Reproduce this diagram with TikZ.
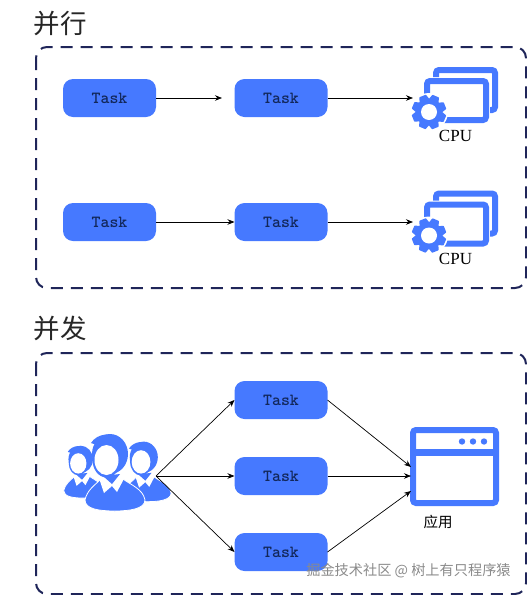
\documentclass[tikz,border=0pt]{standalone}
\usepackage{fontspec}
\setmainfont{Liberation Serif}
\newfontfamily\cjk{Noto Sans CJK SC}
\usetikzlibrary{positioning, arrows.meta}
\definecolor{clrtask}{HTML}{4679FF}
\definecolor{clrframe}{HTML}{1F2559}
\definecolor{clrtext}{HTML}{12275A}
\definecolor{clrmark}{HTML}{8A8A8A}

\begin{document}
\begin{tikzpicture}[
    x=1pt, y=-1pt,
    >={Stealth[length=7pt, width=5.5pt]},
    taskbox/.style={fill=clrtask, rounded corners=10pt, minimum width=93pt,
                    minimum height=38pt, inner sep=0, outer sep=0, text=clrtext,
                    font=\fontsize{17}{17}\ttfamily\bfseries},
    arrow/.style={->, black, line width=0.7pt},
    groupframe/.style={draw=clrframe, rounded corners=11pt, line width=2pt,
                       dash pattern=on 12pt off 8pt},
    heading/.style={font=\fontsize{26.5}{27}\cjk, text=black!85, inner sep=0},
    iconline/.style={draw=clrtask, line width=6pt, rounded corners=3pt},
    cpulabel/.style={font=\fontsize{17}{17}\selectfont, inner sep=0},
    cpuicon/.pic={
        \draw[iconline] (436,77) -- (436,70) -- (495,70) -- (495,110) -- (490,110);
        \draw[iconline] (427,97) -- (427,81) -- (486,81) -- (486,120) -- (444,120);
        \fill[white] (429,112) circle (19);
        \foreach \a in {0,45,...,315} {
            \fill[clrtask, draw=clrtask, line width=1.5pt, line join=round, shift={(429,112)}, rotate=\a+22]
                (-5,-10) -- (-3,-16.5) -- (3,-16.5) -- (5,-10) -- cycle;
        }
        \fill[clrtask] (429,112) circle (13.5);
        \fill[white] (429,112) circle (8);
    },
    personicon/.pic={
        \fill[clrtask, draw=white, line width=0.8pt] (-24,45) .. controls (-22,35) and (-14,30) .. (-8,24)
            -- (14,24) .. controls (22,30) and (34,34) .. (36,45)
            .. controls (36,54) and (20,56) .. (6,56) .. controls (-10,56) and (-24,54) .. (-24,45) -- cycle;
        \fill[white] (-11,20) -- (-5,38) -- (3,31) -- (8,37) -- (17,20) -- (4,18) -- cycle;
        \fill[clrtask] (-6,21) -- (3,29) -- (11,19) -- cycle;
        \fill[clrtask] (1,-1) ellipse (18 and 20);
        \fill[clrtask] (-18,-12) .. controls (-12,-22) and (5,-24) .. (12,-14) -- (-6,-8) -- cycle;
        \fill[clrtask] (-2.5,5) ellipse (14 and 17.5);
        \fill[white] (-2.5,5) ellipse (12 and 15);
    },
]
\useasboundingbox (0,0) rectangle (527,595);

% first group
\node[heading] (title_1) at (60.5,23) {并行};
\draw[groupframe] (36,47) rectangle (526,288);
\node[taskbox] (task_1) at (109.5,98) {Task};
\node[taskbox, right=78.5pt of task_1] (task_2) {Task};
\node[taskbox, below=86pt of task_1] (task_3) {Task};
\node[taskbox, right=78.5pt of task_3] (task_4) {Task};
\coordinate (gap_1) at (222,98);
\coordinate (cpu_in_1) at (413,98);
\coordinate (cpu_in_2) at (413,222);
\pic (cpu_1) at (0,0) {cpuicon};
\pic (cpu_2) at (0,123.5) {cpuicon};
\node[cpulabel] (cpu_text_1) at (455.5,136) {CPU};
\node[cpulabel] (cpu_text_2) at (455.5,259) {CPU};
\draw[arrow] (task_1.east) -- (gap_1);
\draw[arrow] (task_2.east) -- (cpu_in_1);
\draw[arrow] (task_3.east) -- (task_4.west);
\draw[arrow] (task_4.east) -- (cpu_in_2);

% second group
\node[heading] (title_2) at (60.5,328) {并发};
\draw[groupframe] (36,353) rectangle (526,594);
\node[taskbox] (task_5) at (281,400) {Task};
\node[taskbox, below=38pt of task_5] (task_6) {Task};
\node[taskbox, below=38pt of task_6] (task_7) {Task};
\pic[scale=0.68] (user_1) at (80,460) {personicon};
\pic[scale=0.78] (user_2) at (143,458) {personicon};
\pic (user_3) at (109,455) {personicon};
\coordinate (users_out) at (156,476);
\node[draw=clrtask, line width=6pt, rounded corners=3pt, minimum width=83pt,
      minimum height=73pt, inner sep=0, outer sep=0] (app) at (454.5,466.5) {};
\fill[clrtask] (410,449) rectangle (499,455.5);
\foreach \x in {462,473,484} {
    \fill[clrtask] (\x,441.5) circle (3.2);
}
\node[font=\fontsize{14.5}{15}\cjk, inner sep=0] (app_text) at (438,522) {应用};
\coordinate (app_in_1) at (411,467);
\coordinate (app_in_2) at (411,476);
\coordinate (app_in_3) at (411,491);
\draw[arrow] (users_out) -- (task_5.west);
\draw[arrow] (users_out) -- (task_6.west);
\draw[arrow] (users_out) -- (task_7.west);
\draw[arrow] (task_5.east) -- (app_in_1);
\draw[arrow] (task_6.east) -- (app_in_2);
\draw[arrow] (task_7.east) -- (app_in_3);

\node[font=\fontsize{14.2}{15}\cjk, text=clrmark, inner sep=0] (mark) at (408.5,571) {掘金技术社区 @ 树上有只程序猿};
\end{tikzpicture}
\end{document}
